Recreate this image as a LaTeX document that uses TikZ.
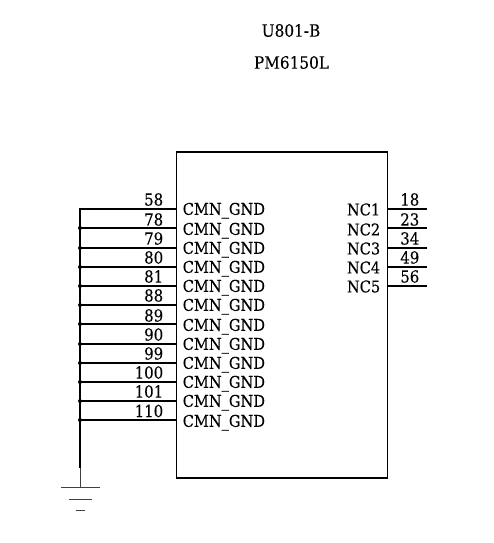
\documentclass[tikz,border=0pt]{standalone}
\usepackage{fontspec}
\setmainfont[FakeBold=0.2,FakeStretch=0.9]{DejaVu Serif}
\begin{document}
\begin{tikzpicture}[x=1pt,y=1pt,line width=1.6pt,
  titletext/.style={font=\fontsize{17}{17}\selectfont},
  pinname/.style={font=\fontsize{16.2}{16}\selectfont},
  gndname/.style={pinname,yshift=-1.2pt},
  pinnum/.style={font=\fontsize{16.6}{16}\selectfont},
  gndline/.style={line width=0.9pt,black!75}]
\tikzstyle{every node}+=[inner sep=0pt]
\useasboundingbox (0,0) rectangle (494,-543);
\node (title) [titletext] at (291,-30.5) {U801-B};
\node (part) [titletext] at (291.5,-62.5) {PM6150L};
\node (u801) [draw,black,minimum width=211pt,minimum height=326pt] at (282,-315) {};
% left pins
\coordinate (l58) at (176.5,-209);
\coordinate (l78) at (176.5,-228);
\coordinate (l79) at (176.5,-248);
\coordinate (l80) at (176.5,-267);
\coordinate (l81) at (176.5,-286);
\coordinate (l88) at (176.5,-305);
\coordinate (l89) at (176.5,-324);
\coordinate (l90) at (176.5,-344);
\coordinate (l99) at (176.5,-363);
\coordinate (l100) at (176.5,-382);
\coordinate (l101) at (176.5,-401);
\coordinate (l110) at (176.5,-420);
\coordinate (b58) at (80,-209);
\coordinate (b78) at (80,-228);
\coordinate (b79) at (80,-248);
\coordinate (b80) at (80,-267);
\coordinate (b81) at (80,-286);
\coordinate (b88) at (80,-305);
\coordinate (b89) at (80,-324);
\coordinate (b90) at (80,-344);
\coordinate (b99) at (80,-363);
\coordinate (b100) at (80,-382);
\coordinate (b101) at (80,-401);
\coordinate (b110) at (80,-420);
\coordinate (busend) at (80,-468);
\draw [black] (l58) -- (b58) -- (busend);
\draw [black] (l78) -- (b78);
\draw [black] (l79) -- (b79);
\draw [black] (l80) -- (b80);
\draw [black] (l81) -- (b81);
\draw [black] (l88) -- (b88);
\draw [black] (l89) -- (b89);
\draw [black] (l90) -- (b90);
\draw [black] (l99) -- (b99);
\draw [black] (l100) -- (b100);
\draw [black] (l101) -- (b101);
\draw [black] (l110) -- (b110);
\fill [black] (b78) circle (2);
\fill [black] (b79) circle (2);
\fill [black] (b80) circle (2);
\fill [black] (b81) circle (2);
\fill [black] (b88) circle (2);
\fill [black] (b89) circle (2);
\fill [black] (b90) circle (2);
\fill [black] (b99) circle (2);
\fill [black] (b100) circle (2);
\fill [black] (b101) circle (2);
\fill [black] (b110) circle (2);
\node (n58) [pinnum,anchor=east] at (164,-199.5) {58};
\node (n78) [pinnum,anchor=east] at (164,-219.5) {78};
\node (n79) [pinnum,anchor=east] at (164,-238.5) {79};
\node (n80) [pinnum,anchor=east] at (164,-257.5) {80};
\node (n81) [pinnum,anchor=east] at (164,-276.5) {81};
\node (n88) [pinnum,anchor=east] at (164,-295.5) {88};
\node (n89) [pinnum,anchor=east] at (164,-315.5) {89};
\node (n90) [pinnum,anchor=east] at (164,-334.5) {90};
\node (n99) [pinnum,anchor=east] at (164,-353.5) {99};
\node (n100) [pinnum,anchor=east] at (164,-372.5) {100};
\node (n101) [pinnum,anchor=east] at (164,-391.5) {101};
\node (n110) [pinnum,anchor=east] at (164,-411) {110};
\node (g58) [gndname,anchor=west] at (182,-209.5) {CMN\_GND};
\node (g78) [gndname,anchor=west] at (182,-229.5) {CMN\_GND};
\node (g79) [gndname,anchor=west] at (182,-248.5) {CMN\_GND};
\node (g80) [gndname,anchor=west] at (182,-267.5) {CMN\_GND};
\node (g81) [gndname,anchor=west] at (182,-286.5) {CMN\_GND};
\node (g88) [gndname,anchor=west] at (182,-305.5) {CMN\_GND};
\node (g89) [gndname,anchor=west] at (182,-325.5) {CMN\_GND};
\node (g90) [gndname,anchor=west] at (182,-344.5) {CMN\_GND};
\node (g99) [gndname,anchor=west] at (182,-363.5) {CMN\_GND};
\node (g100) [gndname,anchor=west] at (182,-382.5) {CMN\_GND};
\node (g101) [gndname,anchor=west] at (182,-401.5) {CMN\_GND};
\node (g110) [gndname,anchor=west] at (182,-421.5) {CMN\_GND};
% right pins
\coordinate (r18) at (387.5,-209);
\coordinate (r23) at (387.5,-228);
\coordinate (r34) at (387.5,-248);
\coordinate (r49) at (387.5,-267);
\coordinate (r56) at (387.5,-286);
\coordinate (e18) at (426.5,-209);
\coordinate (e23) at (426.5,-228);
\coordinate (e34) at (426.5,-248);
\coordinate (e49) at (426.5,-267);
\coordinate (e56) at (426.5,-286);
\draw [black] (r18) -- (e18);
\draw [black] (r23) -- (e23);
\draw [black] (r34) -- (e34);
\draw [black] (r49) -- (e49);
\draw [black] (r56) -- (e56);
\node (n18) [pinnum,anchor=west] at (399.5,-199.5) {18};
\node (n23) [pinnum,anchor=west] at (399.5,-219.5) {23};
\node (n34) [pinnum,anchor=west] at (399.5,-238.5) {34};
\node (n49) [pinnum,anchor=west] at (399.5,-257.5) {49};
\node (n56) [pinnum,anchor=west] at (399.5,-276.5) {56};
\node (c1) [pinname,anchor=east] at (381,-209.5) {NC1};
\node (c2) [pinname,anchor=east] at (381,-229.5) {NC2};
\node (c3) [pinname,anchor=east] at (381,-248.5) {NC3};
\node (c4) [pinname,anchor=east] at (381,-267.5) {NC4};
\node (c5) [pinname,anchor=east] at (381,-286.5) {NC5};
% ground
\coordinate (gndtop) at (80,-487.5);
\coordinate (gnda) at (61,-487.5);
\coordinate (gndb) at (99.5,-487.5);
\coordinate (gndc) at (68.5,-499);
\coordinate (gndd) at (92,-499);
\coordinate (gnde) at (76,-510.5);
\coordinate (gndf) at (85,-510.5);
\draw [gndline] (busend) -- (gndtop);
\draw [gndline] (gnda) -- (gndb);
\draw [gndline] (gndc) -- (gndd);
\draw [gndline] (gnde) -- (gndf);
\end{tikzpicture}
\end{document}
